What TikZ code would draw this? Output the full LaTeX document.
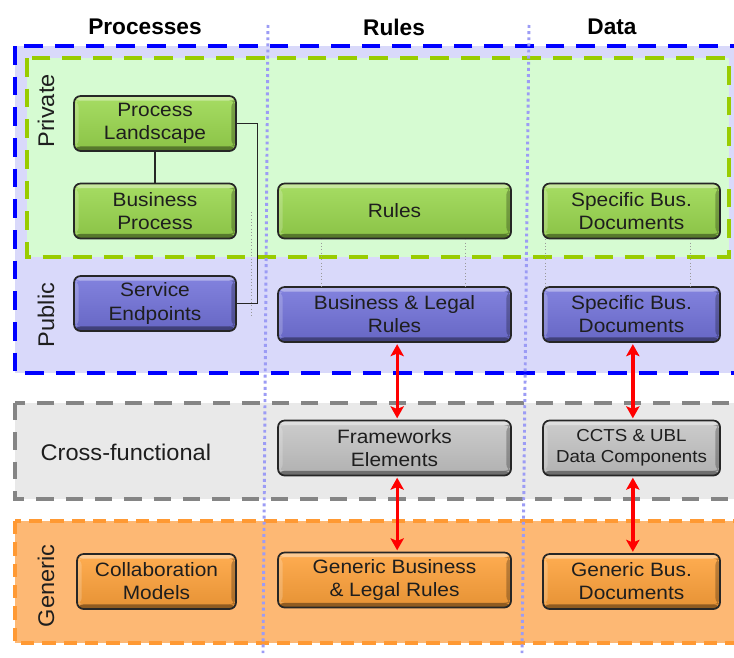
\documentclass[tikz,border=0pt]{standalone}
\usepackage{fontspec}
\setmainfont{Liberation Sans}
\newfontfamily\boxfont{Liberation Sans}[FakeStretch=1.08]
\newfontfamily\labfont{Liberation Sans}[FakeStretch=1.04]
\usetikzlibrary{arrows.meta}
\definecolor{pubfill}{HTML}{D9D9FA}
\definecolor{privfill}{HTML}{D6FBD2}
\definecolor{crossfill}{HTML}{E9E9E9}
\definecolor{genfill}{HTML}{FDB874}
\definecolor{privdash}{HTML}{99CC00}
\definecolor{crossdash}{HTML}{858585}
\definecolor{gendash}{HTML}{FF9933}
\definecolor{coldot}{HTML}{9C9CF5}
\definecolor{gnmain}{HTML}{9AD84E}
\definecolor{blmain}{HTML}{7272DA}
\definecolor{grmain}{HTML}{C4C4C4}
\definecolor{ormain}{HTML}{FFA23A}
\definecolor{txt}{HTML}{1E1E1E}
\tikzset{
  boxbase/.style={draw=black!85, line width=1.3pt, rounded corners=5pt,
    inner sep=0pt, align=center, text=txt, minimum height=41.25pt,
    font=\boxfont\fontsize{14.5}{17.3}\selectfont,
    path picture={
      \fill[white, opacity=0.38] (path picture bounding box.north west) rectangle ([yshift=-3.5pt]path picture bounding box.north east);
      \fill[white, opacity=0.2] ([yshift=-3.5pt]path picture bounding box.north west) rectangle ([xshift=3.5pt,yshift=3.5pt]path picture bounding box.south west);
      \fill[black, opacity=0.38] (path picture bounding box.south west) rectangle ([yshift=3.5pt]path picture bounding box.south east);
      \fill[black, opacity=0.25] ([yshift=-3.5pt]path picture bounding box.north east) rectangle ([xshift=-3.5pt,yshift=3.5pt]path picture bounding box.south east);
    }},
  gbox/.style={boxbase, top color=gnmain!88!white, bottom color=gnmain!90!black},
  bbox/.style={boxbase, top color=blmain!88!white, bottom color=blmain!90!black},
  ybox/.style={boxbase, top color=grmain!85!white, bottom color=grmain!90!black},
  obox/.style={boxbase, top color=ormain!88!white, bottom color=ormain!90!black},
  wproc/.style={minimum width=121.5pt},
  wrule/.style={minimum width=174.75pt},
  wdata/.style={minimum width=132.75pt},
  header/.style={font=\fontsize{17}{20}\selectfont\bfseries},
  rowlabel/.style={font=\labfont\fontsize{17}{20}\selectfont, text=txt},
  link/.style={draw=black!85, line width=0.8pt},
  faint/.style={draw=black!40, line width=0.5pt, dotted},
  redarrow/.style={draw=red, line width=2.5pt, {Stealth[length=9pt,width=10pt,inset=2pt]}-{Stealth[length=9pt,width=10pt,inset=2pt]}},
  coldiv/.style={draw=coldot, line width=2.2pt, dash pattern=on 2.2pt off 2.4pt}
}
\begin{document}
\begin{tikzpicture}[x=0.75pt,y=-0.75pt]
\useasboundingbox (0,0) rectangle (734,657);
\clip (0,0) rectangle (734,657);
% regions
\fill[pubfill] (15,46) rectangle (760,373);
\fill[privfill] (27,58) rectangle (729,257);
\fill[crossfill] (15,403) rectangle (760,499);
\fill[genfill] (15,521) rectangle (760,643);
\draw[privdash, line width=3pt, dash pattern=on 14pt off 9pt] (27,58) rectangle (729,257);
\draw[blue, line width=3pt, dash pattern=on 14pt off 9pt] (15,46) rectangle (760,373);
\draw[crossdash, line width=2.6pt, dash pattern=on 13pt off 9pt] (15,403) rectangle (760,499);
\draw[gendash, line width=2.6pt, dash pattern=on 10pt off 6pt] (15,521) rectangle (760,643);
% column dividers
\coordinate (d1t) at (268,25); \coordinate (d1b) at (263,653);
\coordinate (d2t) at (529,25); \coordinate (d2b) at (522,653);
\draw[coldiv] (d1t) -- (d1b);
\draw[coldiv] (d2t) -- (d2b);
% headers
\node[header] (hp) at (145,27) {Processes};
\node[header] (hr) at (394,27) {Rules};
\node[header] (hd) at (612,27) {Data};
% row labels
\node[rowlabel, rotate=90] (lpriv) at (46,111) {Private};
\node[rowlabel, rotate=90] (lpub) at (46,315) {Public};
\node[rowlabel, anchor=west] (lcross) at (36,452) {Cross-functional};
\node[rowlabel, rotate=90] (lgen) at (46,586) {Generic};
% nodes
\node[gbox, wproc] (pl) at (155,123.5) {Process\\Landscape};
\node[gbox, wproc] (bp) at (155,211) {Business\\Process};
\node[bbox, wproc] (se) at (155,303.5) {Service\\Endpoints};
\node[gbox, wrule] (ru) at (394.5,211) {Rules};
\node[gbox, wdata] (sdg) at (631.5,211) {Specific Bus.\\Documents};
\node[bbox, wrule] (blr) at (394.5,314.5) {Business \& Legal\\Rules};
\node[bbox, wdata] (sdb) at (631.5,314.5) {Specific Bus.\\Documents};
\node[ybox, wrule] (fw) at (394.5,448) {Frameworks\\Elements};
\node[ybox, wdata, font=\boxfont\fontsize{13}{16}\selectfont] (cc) at (631.5,448) {CCTS \& UBL\\Data Components};
\node[obox, minimum width=119.25pt] (cm) at (156.5,581.5) {Collaboration\\Models};
\node[obox, wrule] (gbl) at (394.5,580) {Generic Business\\\& Legal Rules};
\node[obox, wdata] (gbd) at (631.5,581.5) {Generic Bus.\\Documents};
% links
\draw[link] (pl) -- (bp);
\draw[link] (pl.east) -- ++(21,0) |- (se.east);
\coordinate (f1t) at (251,212); \coordinate (f1b) at (251,316);
\draw[faint] (f1t) -- (f1b);
\draw[faint] (ru.south -| 321,0) -- (blr.north -| 321,0);
\draw[faint] (ru.south -| 465,0) -- (blr.north -| 465,0);
\draw[faint] (sdg.south -| 545,0) -- (sdb.north -| 545,0);
\draw[faint] (sdg.south -| 690,0) -- (sdb.north -| 690,0);
\draw[redarrow, shorten <=1pt, shorten >=1pt] ([xshift=2pt]blr.south) -- ([xshift=2pt]fw.north);
\draw[redarrow, shorten <=1pt, shorten >=1pt] ([xshift=2pt]fw.south) -- ([xshift=2pt]gbl.north);
\draw[redarrow, shorten <=1pt, shorten >=1pt] ([xshift=1pt]sdb.south) -- ([xshift=1pt]cc.north);
\draw[redarrow, shorten <=1pt, shorten >=1pt] ([xshift=1pt]cc.south) -- ([xshift=1pt]gbd.north);
\end{tikzpicture}
\end{document}
